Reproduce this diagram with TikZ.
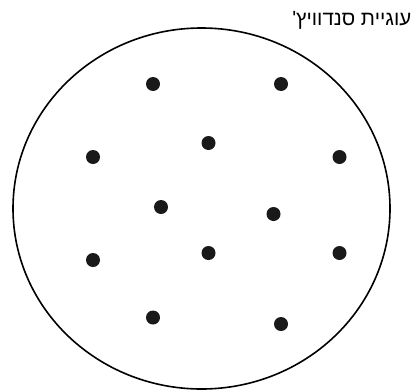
\documentclass[tikz,border=0pt]{standalone}
\usepackage{fontspec}
\newfontfamily\hebfont[Script=Hebrew]{Liberation Sans}
\TeXXeTstate=1
\begin{document}
\begin{tikzpicture}[x=1pt,y=-1pt,
  dot/.style={circle,fill=black!90,inner sep=0pt,minimum size=14pt},
  title/.style={font=\hebfont\fontsize{20.5}{22}\selectfont,inner sep=0pt,anchor=base east}]
\useasboundingbox (0,0) rectangle (417,391);
\draw[line width=1.6pt] (201.5,208.5) ellipse [x radius=188.5, y radius=180.5];
\node[title] (t) at (411.5,25) {'\beginR עוגיית סנדוויץ\endR};
\foreach \n/\x/\y in {a/153/84,b/281/84,c/93/157,d/208.5/143,e/339.5/157,f/161/207,g/273.5/214,h/93/260,i/208.5/253,j/339.5/253,k/153/317.5,l/281/324}
  \node[dot] (\n) at (\x,\y) {};
\end{tikzpicture}
\end{document}
